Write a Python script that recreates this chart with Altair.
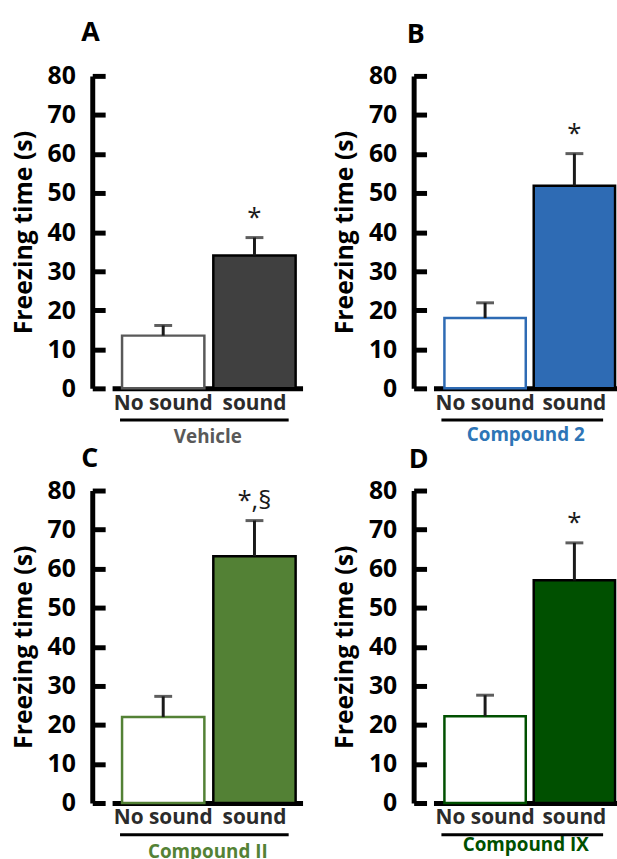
import altair as alt
import pandas as pd

conditions = ["No sound", "sound"]
y_tick_values = [0, 10, 20, 30, 40, 50, 60, 70, 80]

vehicle_mean = [13.5, 34.0]
vehicle_sem = [2.6, 4.6]
comp2_mean = [18.0, 51.9]
comp2_sem = [3.9, 8.2]
compII_mean = [22.0, 63.2]
compII_sem = [5.3, 9.1]
compIX_mean = [22.2, 57.0]
compIX_sem = [5.4, 9.6]

sig_vehicle = ["", "*"]
sig_comp2 = ["", "*"]
sig_compII = ["", "*,§"]
sig_compIX = ["", "*"]

panel_letters = ["A", "B", "C", "D"]
group_names = ["Vehicle", "Compound 2", "Compound II", "Compound IX"]

FONT = "Open Sans"
H = 315


def panel(letter, means, sems, sig, fill, edge, group, gcolor, width, title_dx, title_offset,
          xscale, group_pad):
    df = pd.DataFrame({
        "condition": conditions,
        "mean": means,
        "top": [m + s for m, s in zip(means, sems)],
        "sig": sig,
    })
    x_axis = alt.Axis(
        title=group, titleColor=gcolor, titleFontSize=19, titleFontWeight="bold",
        titleFont=FONT, titlePadding=group_pad,
        labelAngle=0, labelFontSize=21, labelFontWeight="bold", labelColor="#2b2b2b",
        labelFont=FONT, labelPadding=4,
        ticks=False, tickSize=0, domainWidth=5, domainColor="black", grid=False,
    )
    x = alt.X("condition:N", sort=conditions, scale=xscale, axis=x_axis)
    y_axis = alt.Axis(
        title="Freezing time (s)", titleFontSize=25, titleFontWeight="bold", titleFont=FONT,
        titleColor="black", titlePadding=11,
        values=y_tick_values, labelFontSize=25, labelFontWeight="bold", labelFont=FONT,
        labelColor="black", labelPadding=30,
        ticks=True, tickSize={"expr": "-13"}, tickWidth=5, tickColor="black",
        domainWidth=5, domainColor="black", offset=20, grid=False,
    )
    yscale = alt.Scale(domain=[0, 80], nice=False)

    bars = alt.Chart(df).mark_bar(strokeWidth=2.5).encode(
        x=x,
        y=alt.Y("mean:Q", scale=yscale, axis=y_axis),
        fill=alt.Fill("condition:N", scale=alt.Scale(domain=conditions, range=["white", fill]), legend=None),
        stroke=alt.Stroke("condition:N", scale=alt.Scale(domain=conditions, range=[edge, "black"]), legend=None),
    )
    err = alt.Chart(df).mark_rule(strokeWidth=3, color="#1a1a1a").encode(
        x=x, y=alt.Y("mean:Q", scale=yscale, axis=y_axis), y2="top:Q"
    )
    cap = alt.Chart(df).mark_tick(thickness=3, size=18, color="#1a1a1a").encode(
        x=x, y=alt.Y("top:Q", scale=yscale, axis=y_axis)
    )
    star = alt.Chart(df).mark_text(fontSize=26, font=FONT, baseline="middle", dy=-20, color="#1a1a1a").encode(
        x=x, y=alt.Y("top:Q", scale=yscale, axis=y_axis), text="sig:N"
    )
    line = alt.Chart(pd.DataFrame({"g": [group]})).mark_rule(strokeWidth=3, color="black").encode(
        x=alt.value(8), x2=alt.value(width - 14), y=alt.value(H + 32)
    )
    return alt.layer(bars, err, cap, star, line).properties(
        width=width, height=H,
        title=alt.TitleParams(letter, anchor="start", frame="group", dx=title_dx, fontSize=27,
                              fontWeight="bold", font=FONT, color="black", offset=title_offset),
    )


left_scale = alt.Scale(paddingInner=0.098, paddingOuter=0.0925, align=0.59)
right_scale = alt.Scale(paddingInner=0.089, paddingOuter=0.072, align=0.85)

pA = panel(panel_letters[0], vehicle_mean, vehicle_sem, sig_vehicle, "#404040", "#595959",
           group_names[0], "#595959", 192, -31, 17, left_scale, 15)
pB = panel(panel_letters[1], comp2_mean, comp2_sem, sig_comp2, "#2e6bb4", "#2e6bb4",
           group_names[1], "#2e75b6", 185, -27, 15, right_scale, 13)
pC = panel(panel_letters[2], compII_mean, compII_sem, sig_compII, "#538135", "#538135",
           group_names[2], "#548235", 192, -31, 6, left_scale, 15)
pD = panel(panel_letters[3], compIX_mean, compIX_sem, sig_compIX, "#005000", "#005000",
           group_names[3], "#005000", 185, -25, 5, right_scale, 8)

row1 = alt.hconcat(pA, pB, spacing=30).resolve_scale(fill="independent", stroke="independent")
row2 = alt.hconcat(pC, pD, spacing=30).resolve_scale(fill="independent", stroke="independent")
chart = alt.vconcat(row1, row2, spacing=-2).resolve_scale(
    fill="independent", stroke="independent"
).properties(
    padding={"left": 11, "top": 16, "right": 0, "bottom": 0}
).configure(background="white").configure_view(stroke=None)

chart.save("out.html", embed_options={"renderer": "svg", "actions": False})
